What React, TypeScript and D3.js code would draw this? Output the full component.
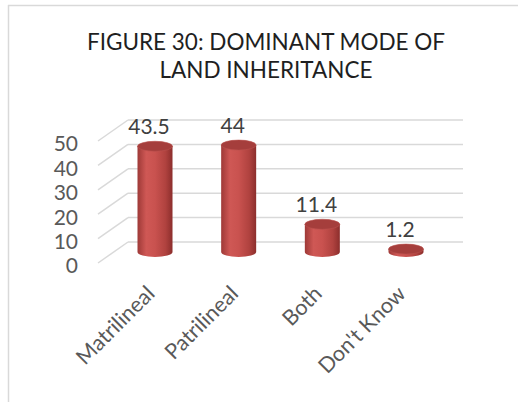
import React from 'react';
import * as d3 from 'd3';

const categories = ['Matrilineal', 'Patrilineal', 'Both', "Don't Know"];
const values = [43.5, 44, 11.4, 1.2];
const valueLabels = ['43.5', '44', '11.4', '1.2'];
const ticks = [0, 10, 20, 30, 40, 50];
const titleLines = ['FIGURE 30: DOMINANT MODE OF', 'LAND INHERITANCE'];

const W = 518;
const H = 402;
const FONT = 'Lato, "Open Sans", sans-serif';

export default function App() {
  // back wall of the 3D box
  const yBack = d3.scaleLinear().domain([0, 50]).range([242, 120]);
  // plane the cylinders stand in
  const yCyl = d3.scaleLinear().domain([0, 50]).range([252, 130.5]);
  const x = d3.scalePoint<string>().domain(categories).range([155, 406]);

  const wallLeft = 128;
  const wallRight = 463;
  const sideDx = 30;
  const sideDy = 21;
  const rx = 17.5;
  const ry = 5;

  return (
    <svg width={W} height={H} style={{ position: 'absolute', left: 0, top: 0, background: '#fff' }}>
      <defs>
        <linearGradient id="cyl" x1="0" x2="1" y1="0" y2="0">
          <stop offset="0%" stopColor="#9e3937" />
          <stop offset="25%" stopColor="#cf5855" />
          <stop offset="50%" stopColor="#c9524f" />
          <stop offset="80%" stopColor="#b0423f" />
          <stop offset="100%" stopColor="#8c2e2c" />
        </linearGradient>
      </defs>

      {/* chart frame */}
      <line x1={8.5} x2={8.5} y1={5} y2={H} stroke="#d9d9d9" strokeWidth={1.5} />
      <line x1={8} x2={W} y1={5.5} y2={5.5} stroke="#d9d9d9" strokeWidth={1.5} />

      {/* title */}
      {titleLines.map((t, i) => (
        <text key={t} x={266} y={50 + i * 28} textAnchor="middle" fontFamily={FONT}
          fontSize={22.5} fill="#1f1f1f">{t}</text>
      ))}

      {/* gridlines: back wall + side wall */}
      {ticks.map(t => (
        <g key={t} stroke="#d9d9d9" strokeWidth={1.5} fill="none">
          <line x1={wallLeft} x2={wallRight} y1={yBack(t)} y2={yBack(t)} />
          <line x1={wallLeft - sideDx} x2={wallLeft} y1={yBack(t) + sideDy} y2={yBack(t)} />
        </g>
      ))}

      {/* y tick labels */}
      {ticks.map(t => (
        <text key={t} x={78} y={yBack(t) + 24} dy="0.35em" textAnchor="end" fontFamily={FONT}
          fontSize={21} fill="#595959">{t}</text>
      ))}

      {/* cylinders */}
      {categories.map((c, i) => {
        const cx = x(c) as number;
        const top = yCyl(values[i]);
        const base = yCyl(0);
        const body = `M${cx - rx},${top} L${cx - rx},${base} A${rx},${ry} 0 0 0 ${cx + rx},${base} L${cx + rx},${top} Z`;
        return (
          <g key={c}>
            <path d={body} fill="url(#cyl)" />
            <ellipse cx={cx} cy={top} rx={rx} ry={ry} fill="#a53e3c" stroke="#b9504d" strokeWidth={0.6} />
          </g>
        );
      })}

      {/* value labels */}
      {categories.map((c, i) => (
        <text key={c} x={(x(c) as number) - 6} y={yCyl(values[i]) - 12} textAnchor="middle"
          fontFamily={FONT} fontSize={21} fill="#404040">{valueLabels[i]}</text>
      ))}

      {/* category labels */}
      {categories.map(c => {
        const cx = x(c) as number;
        return (
          <text key={c} transform={`translate(${cx + 1},${295}) rotate(-45)`} textAnchor="end"
            fontFamily={FONT} fontSize={21.5} fill="#595959">{c}</text>
        );
      })}
    </svg>
  );
}
